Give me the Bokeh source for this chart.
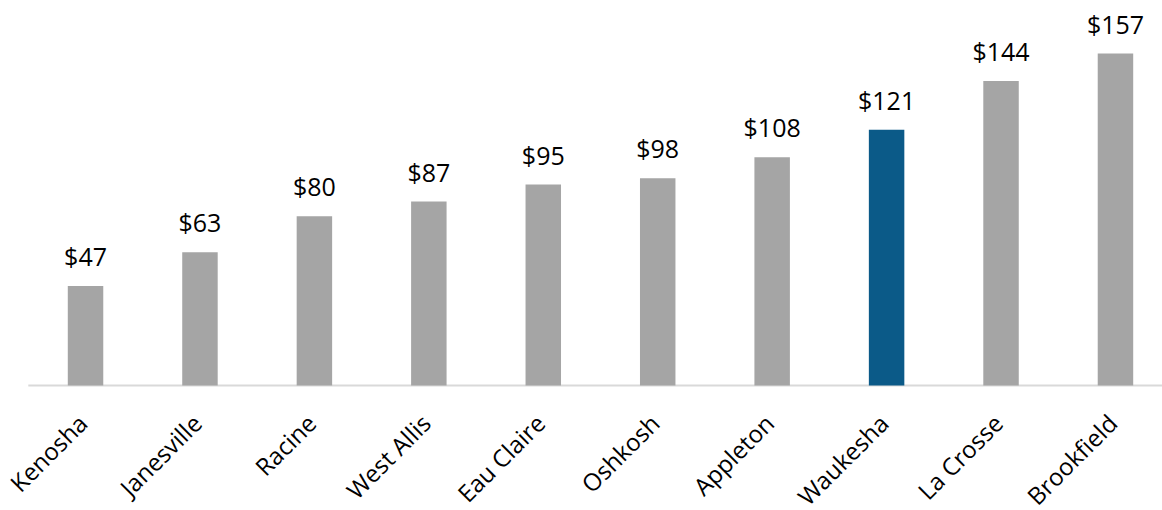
from bokeh.plotting import figure
from bokeh.models import ColumnDataSource, Range1d
from bokeh.core.properties import value
from bokeh.embed import file_html
from bokeh.resources import INLINE
import math

cities = ["Kenosha", "Janesville", "Racine", "West Allis", "Eau Claire",
          "Oshkosh", "Appleton", "Waukesha", "La Crosse", "Brookfield"]
amounts = [47, 63, 80, 87, 95, 98, 108, 121, 144, 157]
highlight = "Waukesha"

GRAY = "#A5A5A5"
BLUE = "#0B5A88"
FONT = "Open Sans"

xs = list(range(len(cities)))
colors = [BLUE if c == highlight else GRAY for c in cities]
labels = ["$%d" % v for v in amounts]

src = ColumnDataSource(dict(x=xs, top=amounts, color=colors, label=labels,
                            name=cities, base=[0] * len(cities)))

p = figure(width=1162, height=510, output_backend="svg", toolbar_location=None,
           x_range=Range1d(-0.743, 9.411), y_range=Range1d(-59.11, 182.07),
           min_border_left=0, min_border_right=0, min_border_top=0, min_border_bottom=0)

# baseline across the category span
p.segment(x0=[xs[0] - 0.5], y0=[0], x1=[xs[-1] + 0.5], y1=[0],
          line_color="#D9D9D9", line_width=2)

p.vbar(x="x", top="top", width=0.31, bottom=0, color="color", source=src, line_color=None)
p.text(x="x", y="top", text="label", source=src, text_align="center", text_baseline="alphabetic",
       y_offset=-30, text_font=value(FONT), text_font_size="25px", text_color="#000000")

# category names along the baseline, rotated 45 degrees
p.text(x="x", y="base", text="name", source=src, angle=math.pi / 4,
       text_align="right", text_baseline="middle", x_offset=-3, y_offset=33,
       text_font=value(FONT), text_font_size="24px", text_color="#000000")

p.xgrid.visible = False
p.ygrid.visible = False
p.xaxis.visible = False
p.yaxis.visible = False
p.outline_line_color = None

open("out.html", "w").write(file_html(p, INLINE))
